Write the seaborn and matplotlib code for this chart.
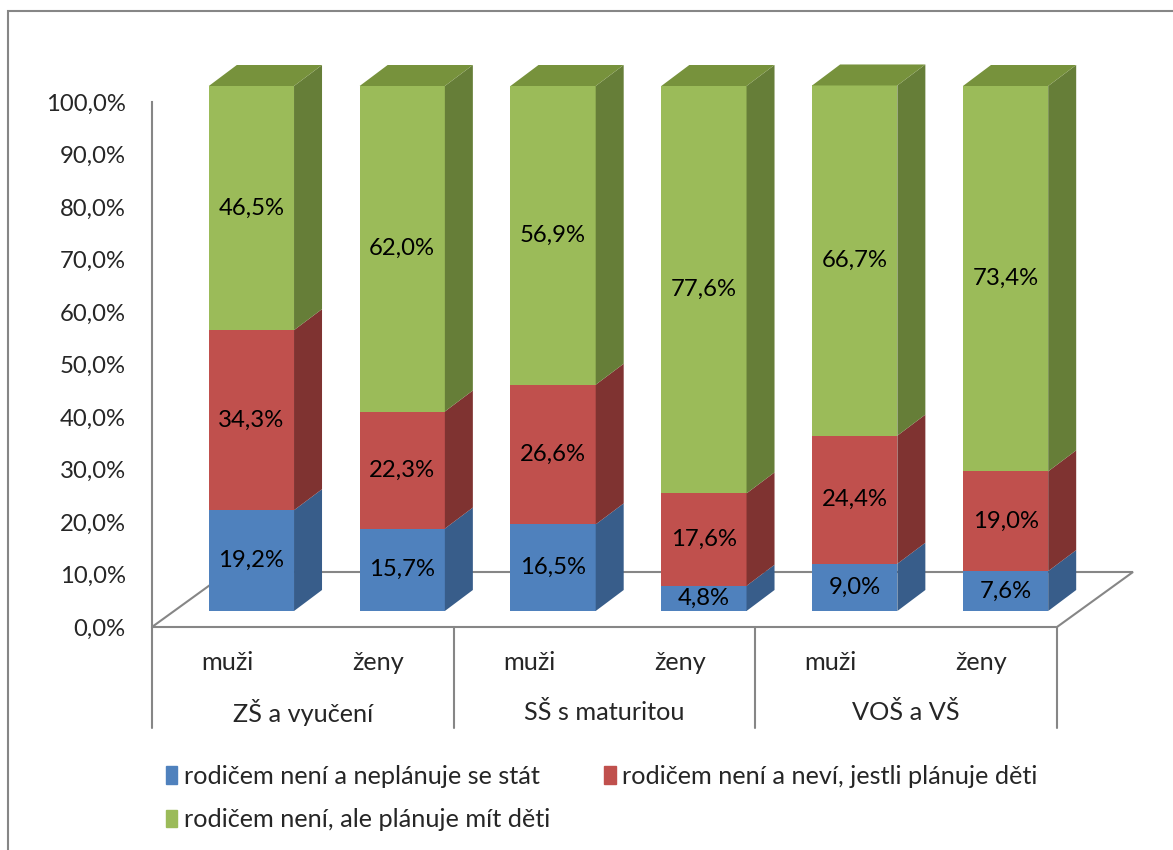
import numpy as np
import matplotlib
matplotlib.use("Agg")
import matplotlib.pyplot as plt
from matplotlib.patches import Polygon, Rectangle, Patch
import seaborn as sns

# Data
groups = ["ZŠ a vyučení", "SŠ s maturitou", "VOŠ a VŠ"]
sexes = ["muži", "ženy"]
series = ["rodičem není a neplánuje se stát",
          "rodičem není a neví, jestli plánuje děti",
          "rodičem není, ale plánuje mít děti"]
neplanuje = [19.2, 15.7, 16.5, 4.8, 9.0, 7.6]
nevi = [34.3, 22.3, 26.6, 17.6, 24.4, 19.0]
planuje = [46.5, 62.0, 56.9, 77.6, 66.7, 73.4]

front_colors = ["#4F81BD", "#C0504D", "#9BBB59"]
side_colors = ["#385D8A", "#7F3331", "#667E38"]
top_color = "#77923C"
line_col = "#868686"

sns.set_theme(style="white")
plt.rcParams["font.family"] = ["Lato", "DejaVu Sans"]
fs_num = 17.2
fs_txt = 18.2

W, H = 1173, 850
fig = plt.figure(figsize=(W / 100, H / 100), dpi=100)
ax = fig.add_axes([152 / W, 1 - 627 / H, 905 / W, 525 / H])

# pixel -> data units
ppx = 905 / 6
ppy = 525 / 100
def px(dx, dy):
    return dx / ppx, dy / ppy

front_dx, front_dy = px(24, 16)
depth_dx, depth_dy = px(28, 21)
floor_dx, floor_dy = px(76, 55)

# floor
floor = Polygon([(-0.5, 0), (5.5, 0), (5.5 + floor_dx, floor_dy), (-0.5 + floor_dx, floor_dy)],
                closed=True, facecolor="white", edgecolor=line_col, lw=1.5, clip_on=False, zorder=1)
ax.add_patch(floor)

bar_ids = [f"{g}|{s}" for g in groups for s in sexes]
bottom = np.zeros(6)
for k, (vals, fc, sc) in enumerate(zip([neplanuje, nevi, planuje], front_colors, side_colors)):
    n0 = len(ax.patches)
    sns.barplot(x=bar_ids, y=vals, order=bar_ids, bottom=bottom, color=fc, saturation=1,
                width=0.565, errorbar=None, linewidth=0, ax=ax)
    for p, v in zip(ax.patches[n0:n0 + 6], vals):
        p.set_x(p.get_x() + front_dx)
        p.set_y(p.get_y() + front_dy)
        p.set_clip_on(False)
        p.set_zorder(3)
        x0, y0, w, h = p.get_x(), p.get_y(), p.get_width(), p.get_height()
        side = Polygon([(x0 + w, y0), (x0 + w + depth_dx, y0 + depth_dy),
                        (x0 + w + depth_dx, y0 + h + depth_dy), (x0 + w, y0 + h)],
                       closed=True, facecolor=sc, lw=0, clip_on=False, zorder=3)
        ax.add_patch(side)
        if k == 2:
            top = Polygon([(x0, y0 + h), (x0 + w, y0 + h), (x0 + w + depth_dx, y0 + h + depth_dy),
                           (x0 + depth_dx, y0 + h + depth_dy)],
                          closed=True, facecolor=top_color, lw=0, clip_on=False, zorder=3)
            ax.add_patch(top)
        ax.text(x0 + w / 2, y0 + h / 2, f"{v:.1f}%".replace(".", ","), ha="center", va="center",
                fontsize=fs_num, color="black", zorder=4)
    bottom += np.array(vals)

ax.set_xlim(-0.5, 5.5)
ax.set_ylim(0, 100)
ax.set_xticks([])
ax.set_xlabel("")
ax.set_ylabel("")
ax.set_yticks(range(0, 101, 10))
ax.set_yticklabels([f"{t:.1f}%".replace(".", ",") for t in range(0, 101, 10)], fontsize=fs_num)
ax.tick_params(axis="y", length=0, pad=19)
for s in ["top", "right", "bottom"]:
    ax.spines[s].set_visible(False)
ax.spines["left"].set_color(line_col)
ax.spines["left"].set_linewidth(1.5)
ax.patch.set_alpha(0)

# category axis box
box_bottom = -101 / ppy
for xb in [-0.5, 1.5, 3.5, 5.5]:
    ax.plot([xb, xb], [0, box_bottom], color=line_col, lw=1.5, clip_on=False)
for i, b in enumerate(bar_ids):
    ax.text(i, -35 / ppy, sexes[i % 2], ha="center", va="center", fontsize=fs_txt)
for j, g in enumerate(groups):
    ax.text(2 * j + 0.5, -85 / ppy, g, ha="center", va="center", fontsize=fs_txt)

# legend
handles = [Patch(color=c, label=l) for c, l in zip(front_colors, series)]
handles = [handles[0], handles[2], handles[1]]
fig.legend(handles=handles, loc="upper left", bbox_to_anchor=(156 / W, 1 - 755 / H), ncol=2,
           frameon=False, fontsize=fs_txt, handlelength=0.45, handleheight=0.7, handletextpad=0.25,
           columnspacing=2.15, labelspacing=0.8, borderaxespad=0)

# outer border
fig.add_artist(Rectangle((8 / W, -0.1), 1.2, 1.1 - 11 / H, transform=fig.transFigure,
                         fill=False, edgecolor=line_col, lw=1.5))

fig.savefig("out.png", dpi=100)
